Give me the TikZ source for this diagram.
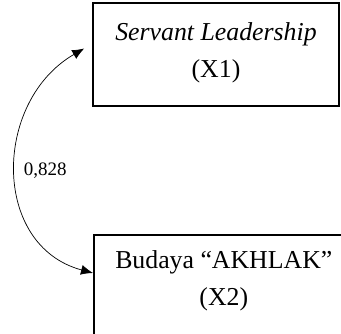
\documentclass[tikz,border=0pt]{standalone}
\usepackage{fontspec}
\setmainfont{Liberation Serif}
\usetikzlibrary{arrows.meta}

\begin{document}
\begin{tikzpicture}[x=1pt,y=1pt,
    varbox/.style={draw, line width=1.6pt, align=center,
        font=\fontsize{25.8}{37}\selectfont},
    corr/.style={{Latex[length=12pt,width=10pt]}-{Latex[length=12pt,width=10pt]}, line width=0.7pt}
]
\useasboundingbox (0,0) rectangle (341,333);
% Variables
\node[varbox, minimum width=246pt, minimum height=103pt, text depth=9pt] (X1) at (216,278.5){\textit{Servant Leadership}\\(X1)};
\node[varbox, anchor=north west, minimum width=260pt, minimum height=102pt, text depth=15pt] (X2) at (93,99){Budaya “AKHLAK”\\(X2)};
% Correlation
\draw[corr] ([xshift=-8pt,yshift=6pt]X1.west) to[out=210,in=165,looseness=1.2] node[right, font=\fontsize{19}{22}\selectfont, xshift=4pt](R){0,828} ([yshift=-39pt]X2.north west);

\end{tikzpicture}
\end{document}
